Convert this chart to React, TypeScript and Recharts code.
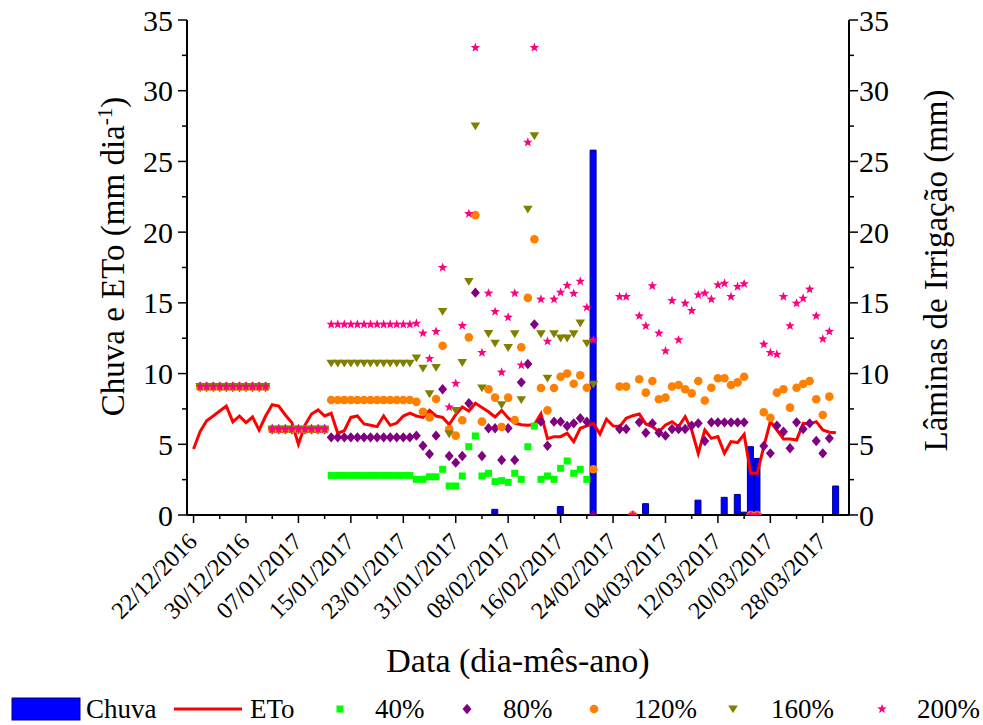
import React from 'react';
import { ComposedChart, XAxis, YAxis, Bar, Line, Scatter } from 'recharts';

const _ = null;
const FONT = 'Liberation Serif';
const fontStyle = { fontFamily: '"Liberation Serif", "DejaVu Serif", serif' };

// day index 0 = 22/12/2016
const days = [
  0, 1, 2, 3, 4, 5, 6, 7, 8, 9, 10, 11, 12, 13, 14, 15, 16, 17, 18, 19, 20, 21, 22, 23, 24,
  25, 26, 27, 28, 29, 30, 31, 32, 33, 34, 35, 36, 37, 38, 39, 40, 41, 42, 43, 44, 45, 46, 47, 48, 49,
  50, 51, 52, 53, 54, 55, 56, 57, 58, 59, 60, 61, 62, 63, 64, 65, 66, 67, 68, 69, 70, 71, 72, 73, 74,
  75, 76, 77, 78, 79, 80, 81, 82, 83, 84, 85, 86, 87, 88, 89, 90, 91, 92, 93, 94, 95, 96, 97, 98,
];

const eto = [
  4.67, 5.9, 6.67, 7.0, 7.35, 7.7, 6.58, 7.0, 6.53, 6.93, 6.0, 7.0, 7.8, 7.7, 7.07, 6.53, 5.0, 6.36, 7.14, 7.43,
  7.0, 7.19, 5.78, 5.96, 6.9, 7.0, 6.44, 6.34, 6.25, 7.0, 6.34, 6.5, 7.0, 7.2, 7.0, 6.9, 7.4, 7.0, 6.9, 6.4,
  7.1, 7.64, 7.35, 7.9, 7.6, 7.3, 6.93, 7.4, 6.86, 6.5, 6.38, 6.35, 6.4, 7.16, 5.4, 5.54, 5.54, 5.78, 5.19, 6.13,
  6.3, 6.48, 5.73, 6.78, 6.3, 6.25, 6.84, 7.02, 7.14, 6.44, 6.25, 5.89, 6.36, 6.6, 6.25, 6.95, 6.01, 4.36, 6.01, 5.42,
  5.54, 4.36, 5.19, 5.12, 5.7, 2.95, 2.95, 4.83, 6.6, 6.01, 5.38, 5.38, 5.3, 6.48, 6.44, 6.6, 6.01, 5.85, 5.82,
];

const rainDays = [46, 56, 61, 69, 77, 81, 83, 84, 85, 86, 98];
const rainValues = [0.4, 0.6, 25.8, 0.8, 1.05, 1.25, 1.45, 0.2, 4.83, 4.0, 2.05];

const t40 = [
  _, 9.07, 9.07, 9.07, 9.07, 9.07, 9.07, 9.07, 9.07, 9.07, 9.07, 9.07,
  6.06, 6.06, 6.06, 6.06, 6.06, 6.06, 6.06, 6.06, 6.06,
  2.8, 2.8, 2.8, 2.8, 2.8, 2.8, 2.8, 2.8, 2.8, 2.8, 2.8, 2.8, 2.8,
  2.52, 2.52, 2.7, 2.7, 3.23, 2.05, 2.05, 2.76, 4.83, 5.59, 2.76, 2.95, 2.36, 2.43, 2.31, 2.95,
  2.52, 4.83, 6.29, 2.52, 2.76, 2.52, 3.3, 3.82, 2.95, 3.23, 2.52,
  _, _, _, _, _, _, _, _, _, _, _, _, _, _, _, _, _, _, _, _, _, _, _, _, _, _, _, _, _, _, _, _, _, _, _, _, _, _,
];

const t80 = [
  _, 9.07, 9.07, 9.07, 9.07, 9.07, 9.07, 9.07, 9.07, 9.07, 9.07, 9.07,
  6.06, 6.06, 6.06, 6.06, 6.06, 6.06, 6.06, 6.06, 6.06,
  5.49, 5.49, 5.49, 5.49, 5.49, 5.49, 5.49, 5.49, 5.49, 5.49, 5.49, 5.49, 5.49,
  5.61, 4.9, 4.31, 5.61, 8.89, 4.17, 3.7, 4.17, 7.9, 15.72, 4.17, 6.13, 6.13, 3.89, 6.13, 3.89,
  9.38, 10.68, 13.48, 6.6, 4.9, 6.6, 6.6, 6.29, 6.48, 6.84, 6.6, 0,
  _, _, _, 6.08, 6.08, _, 6.55, 5.82, 6.48, 5.82, 5.61, 6.08, 6.08, 6.08, 6.32, 6.48, 5.23, 6.55,
  6.55, 6.55, 6.55, 6.55, 6.55, _, _, 4.88, 4.36, 6.32, 5.89, 4.72, 6.55, 6.08, 6.48, 5.23, 4.36, 5.42, _,
];

const t120 = [
  _, 9.07, 9.07, 9.07, 9.07, 9.07, 9.07, 9.07, 9.07, 9.07, 9.07, 9.07,
  6.06, 6.06, 6.06, 6.06, 6.06, 6.06, 6.06, 6.06, 6.06,
  8.13, 8.13, 8.13, 8.13, 8.13, 8.13, 8.13, 8.13, 8.13, 8.13, 8.13, 8.13, 8.13,
  8.0, 7.3, 6.9, 8.2, 11.97, 6.06, 5.61, 6.7, 12.56, 21.2, 6.6, 8.89, 8.3, 6.22, 8.3, 6.72,
  11.86, 15.35, 19.5, 8.98, 7.4, 8.98, 9.78, 10.0, 9.28, 9.88, 9.0, 3.23,
  _, _, _, 9.08, 9.08, 0, 9.6, 8.65, 9.48, 8.18, 8.3, 9.08, 9.19, 8.89, 8.6, 9.48, 8.09, 9.0,
  9.67, 9.67, 9.19, 9.38, 9.78, 0, 0, 7.26, 6.88, 8.65, 8.89, 7.59, 9.0, 9.26, 9.48, 8.18, 7.07, 8.37, _,
];

const t160 = [
  _, 9.07, 9.07, 9.07, 9.07, 9.07, 9.07, 9.07, 9.07, 9.07, 9.07, 9.07,
  6.06, 6.06, 6.06, 6.06, 6.06, 6.06, 6.06, 6.06, 6.06,
  10.73, 10.73, 10.73, 10.73, 10.73, 10.73, 10.73, 10.73, 10.73, 10.73, 10.73, 10.73, 10.73,
  11.1, 10.37, 8.56, 10.42, 14.38, 5.72, 7.38, 10.77, 16.5, 27.5, 8.98, 12.82, 12.14, 7.78, 11.83, 12.8,
  8.15, 21.62, 26.8, 12.8, 9.67, 12.8, 12.5, 12.5, 12.8, 13.56, 12.14, 9.24,
  _, _, _, _, _, _, _, _, _, _, _, _, _, _, _, _, _, _, _, _, _, _, _, _, _, _, _, _, _, _, _, _, _, _, _, _, _,
];

const t200 = [
  _, 9.07, 9.07, 9.07, 9.07, 9.07, 9.07, 9.07, 9.07, 9.07, 9.07, 9.07,
  6.06, 6.06, 6.06, 6.06, 6.06, 6.06, 6.06, 6.06, 6.06,
  13.48, 13.48, 13.48, 13.48, 13.48, 13.48, 13.48, 13.48, 13.48, 13.48, 13.48, 13.48, 13.48,
  13.55, 12.85, 11.05, 12.97, 17.5, 7.63, 9.3, 13.38, 21.3, 33.05, 11.48, 15.68, 14.38, 10.09, 13.98, 15.68,
  10.6, 26.35, 33.05, 15.25, 12.28, 15.25, 15.74, 16.23, 15.66, 16.52, 14.68, 12.38,
  _, _, _, 15.44, 15.44, 0, 14.07, 13.37, 16.2, 12.85, 11.6, 15.16, 12.38, 14.97, 14.45, 15.56, 15.68, 15.25,
  16.27, 16.38, 15.44, 16.15, 16.34, 0, 0, 12.07, 11.48, 11.36, 15.44, 13.37, 14.97, 15.32, 15.96, 14.07, 12.45, 12.97, _,
];

const xTickDays = [0, 4, 8, 12, 16, 20, 24, 28, 32, 36, 40, 44, 48, 52, 56, 60, 64, 68, 72, 76, 80, 84, 88, 92, 96];
const xMajorDays = [0, 8, 16, 24, 32, 40, 48, 56, 64, 72, 80, 88, 96];
const xDateLabels = [
  '22/12/2016', '30/12/2016', '07/01/2017', '15/01/2017', '23/01/2017', '31/01/2017', '08/02/2017',
  '16/02/2017', '24/02/2017', '04/03/2017', '12/03/2017', '20/03/2017', '28/03/2017',
];
const yTicks = [0, 2.5, 5, 7.5, 10, 12.5, 15, 17.5, 20, 22.5, 25, 27.5, 30, 32.5, 35];

const COLORS = {
  chuva: '#0000FF',
  eto: '#FF0000',
  t40: '#00FF00',
  t80: '#800080',
  t120: '#FF8000',
  t160: '#808000',
  t200: '#FF0080',
};

const starPoints = (cx: number, cy: number, R: number, r: number) => {
  const pts: string[] = [];
  for (let i = 0; i < 10; i++) {
    const a = -Math.PI / 2 + (i * Math.PI) / 5;
    const rad = i % 2 === 0 ? R : r;
    pts.push(`${cx + rad * Math.cos(a)},${cy + rad * Math.sin(a)}`);
  }
  return pts.join(' ');
};

const SquareShape = (p: any) => (
  <rect x={p.cx - 3.5} y={p.cy - 3.5} width={7} height={7} fill={COLORS.t40} />
);
const DiamondShape = (p: any) => (
  <polygon
    points={`${p.cx},${p.cy - 5.2} ${p.cx + 4.5},${p.cy} ${p.cx},${p.cy + 5.2} ${p.cx - 4.5},${p.cy}`}
    fill={COLORS.t80}
  />
);
const CircleShape = (p: any) => <circle cx={p.cx} cy={p.cy} r={4.3} fill={COLORS.t120} />;
const TriangleShape = (p: any) => (
  <polygon
    points={`${p.cx - 4.8},${p.cy - 3.6} ${p.cx + 4.8},${p.cy - 3.6} ${p.cx},${p.cy + 4.2}`}
    fill={COLORS.t160}
  />
);
const StarShape = (p: any) => <polygon points={starPoints(p.cx, p.cy, 5, 2.1)} fill={COLORS.t200} />;

const XTick = (props: any) => {
  const { x, y, payload } = props;
  const idx = xMajorDays.indexOf(payload.value);
  const major = idx >= 0;
  const ax = x + 5;
  const ay = y + 28;
  return (
    <g>
      <line x1={x} x2={x} y1={y} y2={y + (major ? 8 : 4)} stroke="#000" strokeWidth={1.5} />
      {major && (
        <text
          x={ax}
          y={ay}
          textAnchor="end"
          transform={`rotate(-45, ${ax}, ${ay})`}
          fontSize={24}
          fontFamily={FONT}
          style={fontStyle}
          fill="#000"
        >
          {xDateLabels[idx]}
        </text>
      )}
    </g>
  );
};

const YTickLeft = (props: any) => {
  const { x, y, payload } = props;
  const v = payload.value;
  const major = v % 5 === 0;
  return (
    <g>
      <line x1={x} x2={x - (major ? 9 : 5)} y1={y} y2={y} stroke="#000" strokeWidth={1.5} />
      {major && (
        <text x={x - 14} y={y} dy="0.35em" textAnchor="end" fontSize={30} fontFamily={FONT} style={fontStyle} fill="#000">
          {v}
        </text>
      )}
    </g>
  );
};

const YTickRight = (props: any) => {
  const { x, y, payload } = props;
  const v = payload.value;
  const major = v % 5 === 0;
  return (
    <g>
      <line x1={x} x2={x + (major ? 9 : 5)} y1={y} y2={y} stroke="#000" strokeWidth={1.5} />
      {major && (
        <text x={x + 10} y={y} dy="0.35em" textAnchor="start" fontSize={30} fontFamily={FONT} style={fontStyle} fill="#000">
          {v}
        </text>
      )}
    </g>
  );
};

const LeftTitle = (props: any) => {
  const vb = props.viewBox || { x: 107, y: 20, width: 80, height: 495 };
  const tx = vb.x + 17;
  const ty = vb.y + vb.height / 2 - 11;
  return (
    <text
      x={tx}
      y={ty}
      textAnchor="middle"
      transform={`rotate(-90, ${tx}, ${ty})`}
      fontSize={33}
      fontFamily={FONT}
      style={fontStyle}
      fill="#000"
    >
      Chuva e ETo (mm dia
      <tspan dy={-12} fontSize={21}>-1</tspan>
      <tspan dy={12}>)</tspan>
    </text>
  );
};

const RightTitle = (props: any) => {
  const vb = props.viewBox || { x: 849, y: 20, width: 80, height: 495 };
  const tx = vb.x + 98;
  const ty = vb.y + vb.height / 2 + 3;
  return (
    <text
      x={tx}
      y={ty}
      textAnchor="middle"
      transform={`rotate(-90, ${tx}, ${ty})`}
      fontSize={33}
      fontFamily={FONT}
      style={fontStyle}
      fill="#000"
    >
      Lâminas de Irrigação (mm)
    </text>
  );
};

const BottomTitle = (props: any) => {
  const vb = props.viewBox || { x: 187, y: 515, width: 662, height: 60 };
  return (
    <text x={vb.x + vb.width / 2} y={672} textAnchor="middle" fontSize={34} fontFamily={FONT} style={fontStyle} fill="#000">
      Data (dia-mês-ano)
    </text>
  );
};

const legendItems = [
  { key: 'chuva', label: 'Chuva' },
  { key: 'eto', label: 'ETo' },
  { key: 't40', label: '40%' },
  { key: 't80', label: '80%' },
  { key: 't120', label: '120%' },
  { key: 't160', label: '160%' },
  { key: 't200', label: '200%' },
];

const LegendBar = () => {
  const cy = 29;
  const textProps = { fontSize: 27, fontFamily: FONT, style: fontStyle, fill: '#000', y: cy + 9 };
  return (
    <svg width={983} height={45} style={{ position: 'absolute', left: 0, top: 680, overflow: 'visible' }}>
      <rect x={12} y={cy - 11} width={68} height={22} fill={COLORS.chuva} stroke="#000080" strokeWidth={1} />
      <text x={86} {...textProps}>{legendItems[0].label}</text>
      <line x1={174} x2={242} y1={cy} y2={cy} stroke={COLORS.eto} strokeWidth={3} />
      <text x={250} {...textProps}>{legendItems[1].label}</text>
      <SquareShape cx={340} cy={cy} />
      <text x={375} {...textProps}>{legendItems[2].label}</text>
      <DiamondShape cx={467} cy={cy} />
      <text x={503} {...textProps}>{legendItems[3].label}</text>
      <CircleShape cx={594} cy={cy} />
      <text x={634} {...textProps}>{legendItems[4].label}</text>
      <TriangleShape cx={733} cy={cy} />
      <text x={771} {...textProps}>{legendItems[5].label}</text>
      <StarShape cx={882} cy={cy} />
      <text x={917} {...textProps}>{legendItems[6].label}</text>
    </svg>
  );
};

const toPoints = (arr: (number | null)[]) =>
  days.map((d, i) => ({ day: d, v: arr[i] })).filter((p) => p.v !== null);

export default function App() {
  const data = days.map((d, i) => {
    const ri = rainDays.indexOf(d);
    return { day: d, eto: eto[i], chuva: ri >= 0 ? rainValues[ri] : null };
  });

  return (
    <div style={{ position: 'absolute', left: 0, top: 0, width: 983, height: 725, background: '#fff', ...fontStyle }}>
      <ComposedChart
        width={983}
        height={725}
        data={data}
        margin={{ top: 20, right: 54, bottom: 150, left: 107 }}
        style={fontStyle}
      >
        <XAxis
          dataKey="day"
          type="number"
          domain={[-1, 100]}
          allowDataOverflow
          ticks={xTickDays}
          interval={0}
          tick={<XTick />}
          tickLine={false}
          tickSize={0}
          tickMargin={0}
          height={60}
          stroke="#000"
          strokeWidth={2}
          label={<BottomTitle />}
        />
        <XAxis
          xAxisId="top"
          orientation="top"
          type="number"
          dataKey="day"
          domain={[-1, 100]}
          allowDataOverflow
          ticks={xTickDays}
          interval={0}
          tick={false}
          tickSize={3}
          height={0}
          stroke="#000"
          strokeWidth={1.5}
        />
        <YAxis
          yAxisId="left"
          type="number"
          domain={[0, 35]}
          allowDataOverflow
          ticks={yTicks}
          interval={0}
          tick={<YTickLeft />}
          tickLine={false}
          tickSize={0}
          tickMargin={0}
          width={80}
          stroke="#000"
          strokeWidth={2}
          label={<LeftTitle />}
        />
        <YAxis
          yAxisId="right"
          orientation="right"
          type="number"
          domain={[0, 35]}
          allowDataOverflow
          ticks={yTicks}
          interval={0}
          tick={<YTickRight />}
          tickLine={false}
          tickSize={0}
          tickMargin={0}
          width={80}
          stroke="#000"
          strokeWidth={2}
          label={<RightTitle />}
        />
        <Bar
          yAxisId="left"
          dataKey="chuva"
          barSize={6}
          fill={COLORS.chuva}
          stroke="#000080"
          strokeWidth={1}
          isAnimationActive={false}
        />
        <Line
          yAxisId="left"
          dataKey="eto"
          type="linear"
          stroke={COLORS.eto}
          strokeWidth={3}
          dot={false}
          activeDot={false}
          isAnimationActive={false}
        />
        <Scatter yAxisId="right" data={toPoints(t40)} dataKey="v" shape={SquareShape} isAnimationActive={false} />
        <Scatter yAxisId="right" data={toPoints(t80)} dataKey="v" shape={DiamondShape} isAnimationActive={false} />
        <Scatter yAxisId="right" data={toPoints(t120)} dataKey="v" shape={CircleShape} isAnimationActive={false} />
        <Scatter yAxisId="right" data={toPoints(t160)} dataKey="v" shape={TriangleShape} isAnimationActive={false} />
        <Scatter yAxisId="right" data={toPoints(t200)} dataKey="v" shape={StarShape} isAnimationActive={false} />
      </ComposedChart>
      <LegendBar />
    </div>
  );
}
